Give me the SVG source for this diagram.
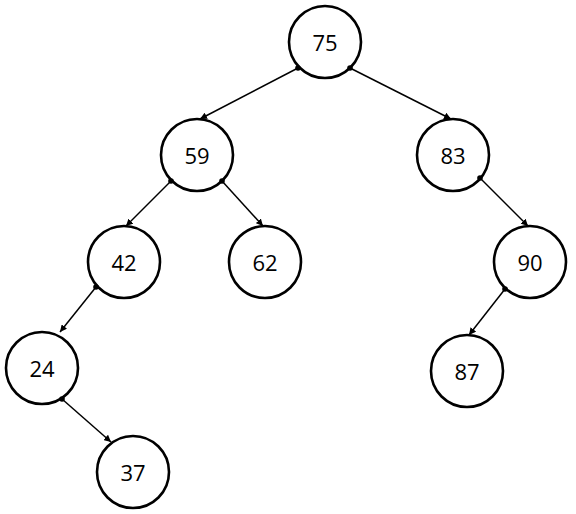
<svg xmlns="http://www.w3.org/2000/svg" width="576" height="514" viewBox="0 0 576 514">
<style>
.n circle{fill:#fff;stroke:#000;stroke-width:2.6}
.n text{font-family:"Open Sans","Noto Sans",sans-serif;font-size:22px;fill:#000;text-anchor:middle;dominant-baseline:central}
.e line{stroke:#000;stroke-width:1.5;marker-start:url(#dot);marker-end:url(#arr)}
</style>
<defs>
<marker id="dot" viewBox="0 0 6 6" refX="3" refY="3" markerWidth="6" markerHeight="6" markerUnits="userSpaceOnUse"><circle cx="3" cy="3" r="2.8" fill="#000"/></marker>
<marker id="arr" viewBox="0 0 10 10" refX="10" refY="5" markerWidth="7" markerHeight="7" markerUnits="userSpaceOnUse" orient="auto"><path d="M0,0 L10,5 L0,10 z" fill="#000"/></marker>
</defs>
<rect width="576" height="514" fill="#fff"/>
<g id="n75" class="n"><circle cx="325" cy="42" r="36"/><text x="325" y="42">75</text></g>
<g id="n59" class="n"><circle cx="197" cy="155" r="36"/><text x="197" y="155">59</text></g>
<g id="n83" class="n"><circle cx="453" cy="155" r="36"/><text x="453" y="155">83</text></g>
<g id="n42" class="n"><circle cx="124" cy="262" r="36"/><text x="124" y="262">42</text></g>
<g id="n62" class="n"><circle cx="265" cy="262" r="36"/><text x="265" y="262">62</text></g>
<g id="n90" class="n"><circle cx="530" cy="262" r="36"/><text x="530" y="262">90</text></g>
<g id="n24" class="n"><circle cx="42" cy="368" r="36"/><text x="42" y="368">24</text></g>
<g id="n87" class="n"><circle cx="467" cy="371" r="36"/><text x="467" y="371">87</text></g>
<g id="n37" class="n"><circle cx="133" cy="472" r="36"/><text x="133" y="472">37</text></g>
<g id="connectors" class="e">
<line x1="298" y1="68" x2="200" y2="119"/>
<line x1="350" y1="68" x2="451" y2="119"/>
<line x1="171" y1="181" x2="126" y2="226"/>
<line x1="222" y1="181" x2="263" y2="226"/>
<line x1="96" y1="287" x2="60" y2="332"/>
<line x1="62" y1="399" x2="111" y2="442"/>
<line x1="480" y1="178" x2="528" y2="226"/>
<line x1="505" y1="289" x2="469" y2="335"/>
</g>
</svg>
